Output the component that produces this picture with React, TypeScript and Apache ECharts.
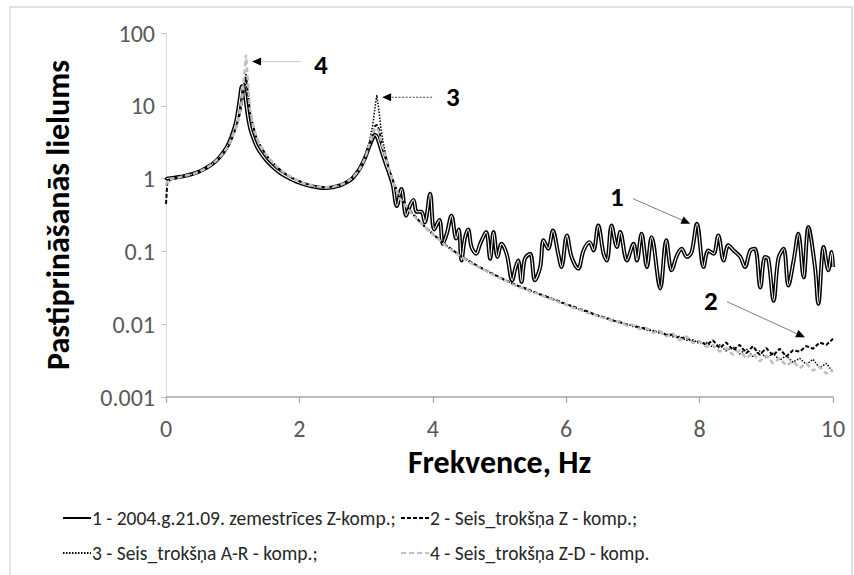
import React, { useEffect, useRef } from "react";
import * as echarts from "echarts";

const yTickLabels = ["0.001", "0.01", "0.1", "1", "10", "100"];
const yTitle = "Pastiprināšanās lielums";
const xTitle = "Frekvence, Hz";

const seriesNames = [
  "1 - 2004.g.21.09. zemestrīces Z-komp.;",
  "2 - Seis_trokšņa Z - komp.;",
  "3 - Seis_trokšņa A-R - komp.;",
  "4 - Seis_trokšņa Z-D - komp.",
];

// Shared low-frequency part (0 – 3.4 Hz)
const freqLow = [
  0, 0.02, 0.1, 0.2, 0.3, 0.4, 0.5, 0.6, 0.7, 0.8,
  0.9, 0.95, 1.0, 1.05, 1.08, 1.11, 1.14, 1.17, 1.2, 1.23,
  1.26, 1.3, 1.35, 1.4, 1.5, 1.6, 1.7, 1.8, 1.9, 2.0,
  2.1, 2.2, 2.3, 2.4, 2.5, 2.6, 2.7, 2.8, 2.9, 2.95,
  3.0, 3.05, 3.1, 3.13, 3.16, 3.19, 3.22, 3.26, 3.3, 3.35,
  3.4,
];
const s1Low = [
  0.95, 1.0, 1.02, 1.05, 1.1, 1.16, 1.25, 1.4, 1.6, 1.95,
  2.6, 3.2, 4.2, 6.0, 8.5, 13, 18.5, 17, 11, 7,
  5.0, 3.8, 2.9, 2.4, 1.8, 1.45, 1.22, 1.07, 0.96, 0.88,
  0.82, 0.78, 0.75, 0.74, 0.76, 0.8, 0.88, 1.02, 1.35, 1.65,
  2.1, 2.8, 3.6, 4.0, 3.8, 3.2, 2.6, 2.0, 1.55, 1.15,
  0.82,
];
const s2Low = [
  0.45, 0.9, 1.0, 1.04, 1.09, 1.15, 1.24, 1.38, 1.58, 1.9,
  2.5, 3.0, 3.8, 5.0, 6.2, 8.0, 11, 17, 24, 14,
  8, 5.5, 3.8, 3.0, 2.1, 1.65, 1.35, 1.15, 1.02, 0.92,
  0.85, 0.8, 0.77, 0.75, 0.77, 0.8, 0.88, 1.02, 1.32, 1.6,
  2.1, 2.9, 4.0, 5.2, 5.5, 4.8, 3.6, 2.6, 1.9, 1.3,
  0.95,
];
const s3Low = [
  0.95, 0.98, 1.01, 1.05, 1.1, 1.16, 1.25, 1.4, 1.6, 1.92,
  2.55, 3.1, 3.9, 5.2, 6.5, 8.5, 12, 20, 28, 15,
  8.5, 5.6, 3.8, 3.0, 2.1, 1.65, 1.35, 1.15, 1.0, 0.92,
  0.84, 0.79, 0.76, 0.75, 0.76, 0.8, 0.88, 1.02, 1.35, 1.65,
  2.2, 3.2, 5.5, 9.0, 14, 9, 5.0, 3.0, 2.0, 1.35,
  0.98,
];
const s4Low = [
  0.8, 0.95, 1.0, 1.04, 1.1, 1.15, 1.25, 1.39, 1.6, 1.93,
  2.5, 3.0, 3.8, 5.0, 6.3, 8.5, 12, 25, 50, 20,
  9, 5.8, 3.9, 3.0, 2.15, 1.65, 1.36, 1.15, 1.02, 0.91,
  0.84, 0.8, 0.77, 0.76, 0.77, 0.81, 0.88, 1.03, 1.33, 1.62,
  2.1, 3.0, 4.2, 4.8, 5.0, 4.4, 3.4, 2.5, 1.85, 1.3,
  0.95,
];

// Noise-record tails (3.5 – 10 Hz)
const freqTail = [
  3.5, 3.6, 3.7, 3.8, 3.9, 4.0, 4.1, 4.2, 4.3, 4.4,
  4.5, 4.6, 4.7, 4.8, 4.9, 5.0, 5.1, 5.2, 5.3, 5.4,
  5.5, 5.6, 5.7, 5.8, 5.9, 6.0, 6.1, 6.2, 6.3, 6.4,
  6.5, 6.6, 6.7, 6.8, 6.9, 7.0, 7.1, 7.2, 7.3, 7.4,
  7.5, 7.6, 7.7, 7.8, 7.9, 8.0, 8.1, 8.2, 8.3, 8.4,
  8.5, 8.6, 8.7, 8.8, 8.9, 9.0, 9.1, 9.2, 9.3, 9.4,
  9.5, 9.6, 9.7, 9.8, 9.9, 10.0,
];
const s2Tail = [
  0.55, 0.43, 0.33, 0.26, 0.21, 0.172, 0.146, 0.121, 0.104, 0.089,
  0.078, 0.069, 0.061, 0.055, 0.049, 0.044, 0.040, 0.036, 0.033, 0.031,
  0.028, 0.026, 0.024, 0.0222, 0.0205, 0.0188, 0.0176, 0.0162, 0.0152, 0.0139,
  0.013, 0.0123, 0.0112, 0.0108, 0.0099, 0.0097, 0.0089, 0.0088, 0.0079, 0.008,
  0.0071, 0.0072, 0.0064, 0.0066, 0.0057, 0.0058, 0.0052, 0.006, 0.0047, 0.0056,
  0.0044, 0.0052, 0.004, 0.005, 0.0038, 0.0047, 0.0037, 0.0046, 0.0036, 0.0044,
  0.0042, 0.005, 0.0046, 0.0056, 0.0052, 0.0063,
];
const s3Tail = [
  0.56, 0.42, 0.32, 0.26, 0.21, 0.175, 0.144, 0.12, 0.102, 0.088,
  0.077, 0.068, 0.061, 0.054, 0.049, 0.044, 0.039, 0.036, 0.033, 0.03,
  0.028, 0.0255, 0.0238, 0.022, 0.0202, 0.0186, 0.0172, 0.0158, 0.0149, 0.0136,
  0.0128, 0.0119, 0.0114, 0.0104, 0.0101, 0.0093, 0.0091, 0.0083, 0.0082, 0.0075,
  0.0074, 0.0067, 0.0068, 0.006, 0.0061, 0.0054, 0.0056, 0.0048, 0.0052, 0.0043,
  0.0049, 0.0039, 0.0046, 0.0036, 0.0043, 0.0034, 0.004, 0.0032, 0.0037, 0.003,
  0.0034, 0.0028, 0.0033, 0.0025, 0.0029, 0.0022,
];
const s4Tail = [
  0.54, 0.42, 0.32, 0.255, 0.208, 0.172, 0.143, 0.119, 0.101, 0.087,
  0.076, 0.067, 0.06, 0.054, 0.048, 0.043, 0.039, 0.035, 0.032, 0.03,
  0.027, 0.026, 0.023, 0.022, 0.0198, 0.0185, 0.0168, 0.016, 0.0143, 0.014,
  0.0124, 0.0122, 0.0108, 0.011, 0.0096, 0.0098, 0.0086, 0.0089, 0.0076, 0.0081,
  0.0068, 0.0074, 0.006, 0.0068, 0.0055, 0.0058, 0.0049, 0.0052, 0.0042, 0.0047,
  0.0038, 0.0044, 0.0034, 0.004, 0.0031, 0.0037, 0.0029, 0.0034, 0.0027, 0.0031,
  0.0025, 0.0029, 0.0023, 0.0026, 0.0021, 0.0023,
];

// Earthquake record, high-frequency part (3.46 – 10 Hz)
const s1NoiseFreq = [
  3.46, 3.53, 3.6, 3.66, 3.71, 3.76, 3.83, 3.88, 3.96, 4.02,
  4.1, 4.15, 4.21, 4.28, 4.35, 4.39, 4.43, 4.48, 4.53, 4.58,
  4.65, 4.71, 4.8, 4.86, 4.91, 4.97, 5.03, 5.11, 5.19, 5.24,
  5.28, 5.33, 5.38, 5.46, 5.53, 5.61, 5.66, 5.73, 5.8, 5.88,
  5.93, 6.01, 6.08, 6.18, 6.26, 6.35, 6.41, 6.48, 6.56, 6.61,
  6.68, 6.76, 6.81, 6.91, 7.01, 7.06, 7.13, 7.21, 7.28, 7.41,
  7.5, 7.58, 7.66, 7.73, 7.81, 7.88, 7.96, 8.06, 8.13, 8.21,
  8.28, 8.36, 8.43, 8.51, 8.61, 8.68, 8.76, 8.83, 8.91, 8.98,
  9.03, 9.11, 9.18, 9.26, 9.33, 9.41, 9.48, 9.56, 9.63, 9.73,
  9.78, 9.86, 9.93, 9.98, 10.0,
];
const s1NoiseAmp = [
  0.42, 0.72, 0.31, 0.43, 0.51, 0.35, 0.35, 0.25, 0.62, 0.2,
  0.27, 0.127, 0.175, 0.31, 0.15, 0.2, 0.075, 0.15, 0.2, 0.115,
  0.093, 0.127, 0.184, 0.079, 0.184, 0.084, 0.127, 0.09, 0.04, 0.06,
  0.075, 0.038, 0.079, 0.093, 0.04, 0.061, 0.142, 0.109, 0.194, 0.093,
  0.061, 0.166, 0.084, 0.058, 0.103, 0.134, 0.103, 0.227, 0.093, 0.075,
  0.227, 0.115, 0.184, 0.075, 0.127, 0.075, 0.175, 0.061, 0.157, 0.031,
  0.142, 0.055, 0.088, 0.109, 0.084, 0.098, 0.24, 0.061, 0.103, 0.093,
  0.166, 0.075, 0.121, 0.103, 0.084, 0.061, 0.103, 0.109, 0.032, 0.084,
  0.079, 0.021, 0.079, 0.109, 0.034, 0.075, 0.175, 0.044, 0.215, 0.061,
  0.019, 0.115, 0.055, 0.098, 0.061,
];

// Annotation arrows, in data coordinates [Hz, value]
const annotations = [
  { label: "4", labelAt: [2.32, 37], tail: [2.02, 40.5], tip: [1.29, 40.5], color: "#c8c8c8", dash: "solid" },
  { label: "3", labelAt: [4.3, 13.5], tail: [3.99, 13.1], tip: [3.24, 13.1], color: "#404040", dash: [2, 1.5] },
  { label: "1", labelAt: [6.76, 0.56], tail: [7.0, 0.53], tip: [7.86, 0.24], color: "#7f7f7f", dash: "solid" },
  { label: "2", labelAt: [8.17, 0.021], tail: [8.41, 0.0204], tip: [9.58, 0.0066], color: "#7f7f7f", dash: "solid" },
];

const zip = (xs: number[], ys: number[]) => xs.map((x, i) => [x, ys[i]]);

const FONT = "Carlito, 'Open Sans', 'Noto Sans', sans-serif";

export default function App() {
  const ref = useRef<HTMLDivElement>(null);

  useEffect(() => {
    if (!ref.current) return;
    const chart = echarts.init(ref.current, undefined, { renderer: "svg" });

    const s1Data = zip(freqLow, s1Low).concat(zip(s1NoiseFreq, s1NoiseAmp));
    const s2Data = zip(freqLow, s2Low).concat(zip(freqTail, s2Tail));
    const s3Data = zip(freqLow, s3Low).concat(zip(freqTail, s3Tail));
    const s4Data = zip(freqLow, s4Low).concat(zip(freqTail, s4Tail));

    const legendText = { fontFamily: FONT, fontSize: 19.5, color: "#262626", padding: [0, 0, 0, -4] };
    const legendBase = {
      orient: "vertical",
      top: 503,
      itemWidth: 28,
      itemHeight: 14,
      itemGap: 15,
      textStyle: legendText,
      itemStyle: { opacity: 0 },
      selectedMode: false,
    };

    chart.setOption({
      animation: false,
      backgroundColor: "#ffffff",
      grid: { left: 166, right: 21, top: 33, bottom: 178, containLabel: false },
      xAxis: {
        type: "value",
        min: 0,
        max: 10,
        interval: 2,
        name: xTitle,
        nameLocation: "middle",
        nameGap: 49,
        nameMoveOverlap: false,
        nameTextStyle: { fontFamily: FONT, fontSize: 32, fontWeight: "bold", color: "#000" },
        axisLine: { show: true, onZero: false, lineStyle: { color: "#a6a6a6", width: 1.5 } },
        axisTick: { show: true, length: 6, lineStyle: { color: "#a6a6a6", width: 1.2 } },
        axisLabel: { fontFamily: FONT, fontSize: 24, color: "#595959", margin: 19 },
        splitLine: { show: false },
      },
      yAxis: {
        type: "log",
        logBase: 10,
        min: 0.001,
        max: 100,
        axisLine: { show: true, lineStyle: { color: "#d9d9d9", width: 1 } },
        axisTick: { show: true, length: 5, lineStyle: { color: "#bfbfbf" } },
        axisLabel: {
          fontFamily: FONT,
          fontSize: 24,
          color: "#595959",
          margin: 11,
          formatter: (v: number) => yTickLabels[Math.round(Math.log10(v)) + 3],
        },
        splitLine: { show: false },
      },
      legend: [
        { ...legendBase, data: [seriesNames[0], seriesNames[2]], left: 57 },
        { ...legendBase, data: [seriesNames[1], seriesNames[3]], left: 395 },
      ],
      series: [
        {
          name: seriesNames[0],
          type: "line",
          data: s1Data,
          symbol: "none",
          smooth: 0.35,
          lineStyle: { color: "#000", width: 4 },
          itemStyle: { color: "#000" },
          z: 2,
        },
        {
          name: "core",
          type: "line",
          data: s1Data,
          symbol: "none",
          smooth: 0.35,
          lineStyle: { color: "#ffffff", width: 1.1 },
          itemStyle: { color: "#fff" },
          z: 2,
          silent: true,
        },
        {
          name: seriesNames[1],
          type: "line",
          data: s2Data,
          symbol: "none",
          lineStyle: { color: "#000", width: 2, type: [4, 2] },
          itemStyle: { color: "#000" },
          z: 3,
        },
        {
          name: seriesNames[2],
          type: "line",
          data: s3Data,
          symbol: "none",
          lineStyle: { color: "#000", width: 1.5, type: [1.5, 1.5] },
          itemStyle: { color: "#000" },
          z: 3,
        },
        {
          name: seriesNames[3],
          type: "line",
          data: s4Data,
          symbol: "none",
          lineStyle: { color: "#bfbfbf", width: 2.5, type: [5, 3] },
          itemStyle: { color: "#bfbfbf" },
          z: 3,
        },
      ],
    });

    const toPx = (p: number[]) => chart.convertToPixel({ gridIndex: 0 }, p) as number[];
    const top = toPx([0, 100]);
    const bottom = toPx([0, 0.001]);
    const elements: any[] = [
      {
        type: "rect",
        shape: { x: 10, y: 7, width: 842, height: 600 },
        style: { fill: "none", stroke: "#d9d9d9", lineWidth: 1.5 },
        silent: true,
        z: -10,
      },
      {
        type: "text",
        x: 58,
        y: (top[1] + bottom[1]) / 2,
        rotation: Math.PI / 2,
        style: {
          text: yTitle,
          fontFamily: FONT,
          fontSize: 32,
          fontWeight: "bold",
          fill: "#000",
          align: "center",
          verticalAlign: "middle",
        },
        z: 10,
      },
    ];
    annotations.forEach((a) => {
      const tip = toPx(a.tip);
      const tail = toPx(a.tail);
      const lab = toPx(a.labelAt);
      const dx = tip[0] - tail[0];
      const dy = tip[1] - tail[1];
      const len = Math.sqrt(dx * dx + dy * dy);
      const ux = dx / len;
      const uy = dy / len;
      const hl = 9;
      const hw = 4;
      const bx = tip[0] - ux * hl;
      const by = tip[1] - uy * hl;
      elements.push({
        type: "line",
        shape: { x1: tail[0], y1: tail[1], x2: bx, y2: by },
        style: { stroke: a.color, lineWidth: 1, lineDash: a.dash },
        z: 10,
      });
      elements.push({
        type: "polygon",
        shape: {
          points: [
            [tip[0], tip[1]],
            [bx - uy * hw, by + ux * hw],
            [bx + uy * hw, by - ux * hw],
          ],
        },
        style: { fill: "#000" },
        z: 10,
      });
      elements.push({
        type: "text",
        x: lab[0],
        y: lab[1],
        style: {
          text: a.label,
          fontFamily: FONT,
          fontSize: 27,
          fontWeight: "bold",
          fill: "#000",
          align: "center",
          verticalAlign: "middle",
        },
        z: 10,
      });
    });
    chart.setOption({ graphic: elements });

    return () => chart.dispose();
  }, []);

  return (
    <div
      ref={ref}
      style={{ position: "absolute", left: 0, top: 0, width: 854, height: 575 }}
    />
  );
}
